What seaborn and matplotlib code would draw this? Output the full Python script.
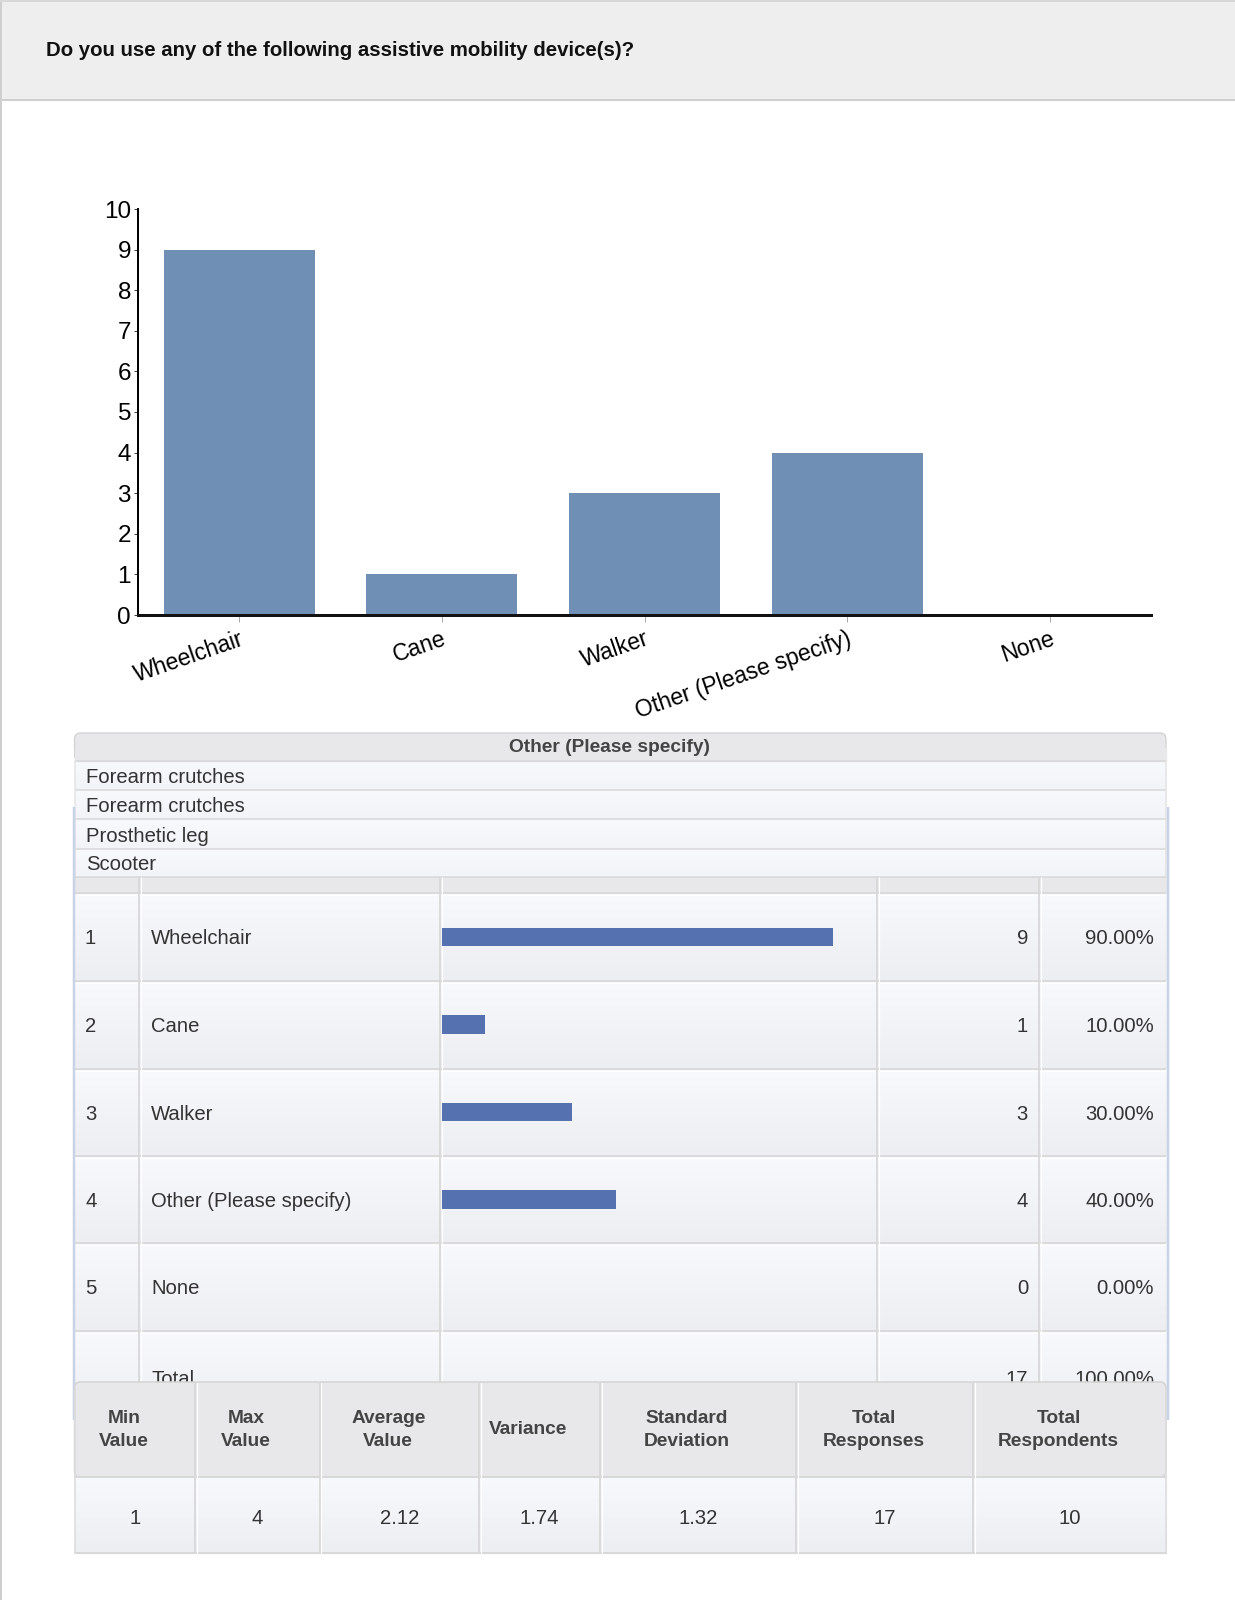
import numpy as np
import pandas as pd
import seaborn as sns
import matplotlib.pyplot as plt
from matplotlib.patches import Rectangle, FancyBboxPatch

# data
question = "Do you use any of the following assistive mobility device(s)?"
categories = ["Wheelchair", "Cane", "Walker", "Other (Please specify)", "None"]
counts = [9, 1, 3, 4, 0]
total_respondents = 10
other_answers = ["Forearm crutches", "Forearm crutches", "Prosthetic leg", "Scooter"]
stat_names = ["Min\nValue", "Max\nValue", "Average\nValue", "Variance",
              "Standard\nDeviation", "Total\nResponses", "Total\nRespondents"]
stat_values = ["1", "4", "2.12", "1.74", "1.32", "17", "10"]

df = pd.DataFrame({"answer": categories, "count": counts})
df["pct"] = df["count"] / total_respondents * 100

sns.set_style("white")
plt.rcParams["font.family"] = ["Liberation Sans", "DejaVu Sans"]

W, H = 1235, 1600
fig = plt.figure(figsize=(W / 100, H / 100), dpi=100)

# background canvas in pixel coords
bg = fig.add_axes([0, 0, 1, 1])
bg.set_xlim(0, W)
bg.set_ylim(H, 0)
bg.axis("off")

TXT = "#333333"
LINE = "#d8d8d8"
HEAD = "#e8e8ea"
FS = 14.6


def px(v):
    return v * 0.72


def grad(x0, y0, x1, y1, c_top, c_bot, z=1):
    a = np.array(plt.matplotlib.colors.to_rgb(c_top))
    b = np.array(plt.matplotlib.colors.to_rgb(c_bot))
    t = np.linspace(0, 1, 32)[:, None]
    img = (a * (1 - t) + b * t)[:, None, :]
    bg.imshow(img, extent=(x0, x1, y1, y0), aspect="auto", zorder=z,
              interpolation="bilinear")


def hline(x0, x1, y, z=3, c=LINE, lw=1.5):
    bg.plot([x0, x1], [y, y], color=c, lw=px(lw), zorder=z, solid_capstyle="butt")


def vline(x, y0, y1, z=3, c=LINE, lw=1.5):
    bg.plot([x, x], [y0, y1], color=c, lw=px(lw), zorder=z, solid_capstyle="butt")


# header band
bg.add_patch(Rectangle((0, 0), W, 100, color="#eeeeee", zorder=1))
hline(0, W, 100, c="#cfcfcf", lw=2)
vline(1, 0, H, c="#cfcfcf", lw=2)
hline(0, W, 1, c="#d8d8d8", lw=2)
bg.text(46, 51, question, fontsize=14.7, fontweight="bold", color="#111111",
        va="center", ha="left", zorder=5)

# ---- "Other (Please specify)" table ----
L, R = 74.5, 1166
bg.add_patch(FancyBboxPatch((L, 733), R - L, 28, boxstyle="round,pad=0,rounding_size=6",
                            fc=HEAD, ec="#d0d0d0", lw=px(1.2), zorder=2))
bg.add_patch(Rectangle((L, 748), R - L, 13, color=HEAD, zorder=2.5))
bg.text((L + R) / 2 - 11, 748, "Other (Please specify)", fontsize=13.8,
        fontweight="bold", color="#444444", ha="center", va="center", zorder=5)
o_edges = [761, 790, 819, 849, 877]
for i, ans in enumerate(other_answers):
    y0, y1 = o_edges[i], o_edges[i + 1]
    grad(L, y0, R, y1, "#f8f9fd", "#f3f4f8")
    bg.text(86, (y0 + y1) / 2 + 2, ans, fontsize=FS, color=TXT, va="center", zorder=5)
    hline(L, R, y0)
hline(L, R, 877)
vline(L, 761, 877, c="#e4e4e4")
vline(R, 761, 877, c="#e4e4e4")

# ---- main results table ----
cols = [L, 139, 440, 877, 1039, R]
rows = [893, 981, 1069, 1156, 1243, 1331, 1420]
bg.add_patch(Rectangle((L, 877), R - L, 16, color=HEAD, zorder=1))
for i in range(len(rows) - 1):
    grad(L, rows[i], R, rows[i + 1], "#f8f9fd", "#edeef2")
for y in rows[:-1]:
    hline(L, R, y, lw=1.8)
    hline(L, R, y + 1.5, c="white", lw=1.2)
for x in cols[1:-1]:
    vline(x, 877, 1420, lw=1.8)
    vline(x + 1.5, 877, 1420, c="white", lw=1.2)
vline(73.5, 807, 1420, c="#c9d3e8", lw=2.5)
vline(1167.5, 807, 1420, c="#c9d3e8", lw=2.5)

for i, r in df.iterrows():
    yc = (rows[i] + rows[i + 1]) / 2 + 2
    bg.text(85, yc, str(i + 1), fontsize=FS, color=TXT, va="center", zorder=5)
    bg.text(151, yc, r["answer"], fontsize=FS, color=TXT, va="center", zorder=5)
    bg.text(1028, yc, f"{r['count']}", fontsize=FS, color=TXT, va="center",
            ha="right", zorder=5)
    bg.text(1154, yc, f"{r['pct']:.2f}%", fontsize=FS, color=TXT, va="center",
            ha="right", zorder=5)
bg.text(151, 1385, "Total", fontsize=FS, color=TXT, va="baseline", zorder=5)
bg.text(1028, 1385, str(df["count"].sum()), fontsize=FS, color=TXT, va="baseline",
        ha="right", zorder=5)
bg.text(1154, 1385, "100.00%", fontsize=FS, color=TXT, va="baseline", ha="right", zorder=5)

# ---- stats table (overlaps the total row) ----
scols = [L, 195, 319.5, 479, 600, 796, 973, R]
bg.add_patch(FancyBboxPatch((L, 1382), R - L, 95, boxstyle="round,pad=0,rounding_size=6",
                            fc=HEAD, ec="#d4d4d4", lw=px(1.5), zorder=6))
bg.add_patch(Rectangle((L, 1477), R - L, 76, color="#f3f4f8", zorder=6))
grad(L, 1477, R, 1553, "#f8f9fd", "#edeef2", z=6.2)
bg.plot([L, R], [1477, 1477], color=LINE, lw=px(2), zorder=7)
bg.plot([L, R], [1553, 1553], color=LINE, lw=px(2), zorder=7)
bg.plot([L, L], [1390, 1553], color="#dcdcdc", lw=px(1.5), zorder=7)
bg.plot([R, R], [1390, 1553], color="#dcdcdc", lw=px(1.5), zorder=7)
for x in scols[1:-1]:
    bg.plot([x, x], [1383, 1553], color=LINE, lw=px(1.8), zorder=7)
    bg.plot([x + 1.5, x + 1.5], [1383, 1553], color="white", lw=px(1.2), zorder=7)
for i, (nm, val) in enumerate(zip(stat_names, stat_values)):
    xc = (scols[i] + scols[i + 1]) / 2
    bg.text(xc - 11, 1430, nm, fontsize=13.8, fontweight="bold", color="#444444",
            ha="center", va="center", linespacing=1.4, zorder=8)
    bg.text(xc, 1518, val, fontsize=FS, color=TXT, ha="center", va="center", zorder=8)

# ---- inline bars inside the table ----
unit = 43.4
axb = fig.add_axes([442 / W, 1 - 1331 / H, 10 * unit / W, (1331 - 893) / H])
sns.barplot(data=df, x="count", y="answer", orient="h", color="#5571b0",
            saturation=1, width=0.21, linewidth=0, ax=axb)
axb.set_xlim(0, 10)
axb.axis("off")
axb.patch.set_alpha(0)

# ---- main bar chart ----
ax = fig.add_axes([138 / W, 1 - 615 / H, (1151 - 138) / W, (615 - 209) / H])
sns.barplot(data=df, x="answer", y="count", color="#6f8fb4", saturation=1,
            width=0.745, linewidth=0, ax=ax)
ax.patch.set_alpha(0)
ax.set_xlim(-0.5, 4.5)
ax.set_ylim(0, 10)
ax.set_yticks(range(0, 11))
ax.set_xlabel("")
ax.set_ylabel("")
for s in ["top", "right"]:
    ax.spines[s].set_visible(False)
ax.spines["left"].set_linewidth(px(2))
ax.spines["left"].set_color("black")
ax.spines["bottom"].set_linewidth(px(3))
ax.spines["bottom"].set_color("#111111")
ax.tick_params(axis="y", labelsize=17.5, length=3, width=px(1), color="#444444",
               pad=2, left=True, labelcolor="black")
ax.tick_params(axis="x", labelsize=16.5, length=5, width=px(1), color="#aaaaaa",
               bottom=True, pad=4, labelcolor="black")
for lab in ax.get_xticklabels():
    lab.set_rotation(19)
    lab.set_ha("right")
    lab.set_va("top")
    lab.set_rotation_mode("anchor")

fig.savefig("out.png", dpi=100)
